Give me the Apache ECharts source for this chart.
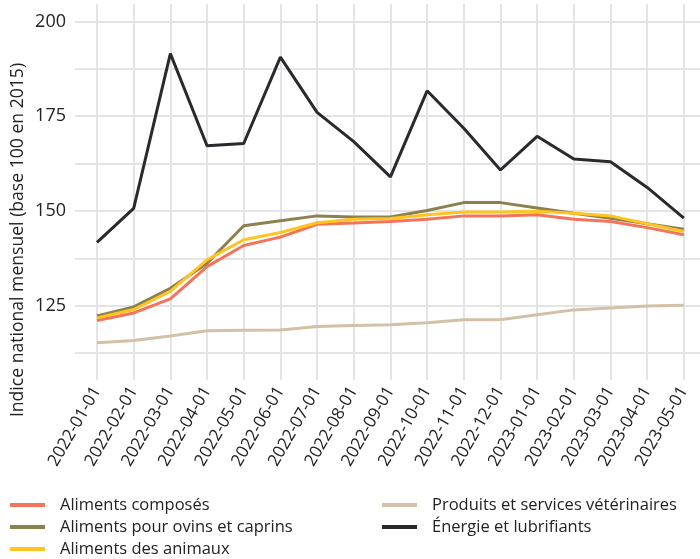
<!DOCTYPE html>
<html>
<head>
<meta charset="utf-8">
<script src="https://cdn.jsdelivr.net/npm/echarts@6/dist/echarts.min.js"></script>
<style>
  html, body { margin: 0; padding: 0; background: #fff; }
  #main { width: 700px; height: 559px; }
</style>
</head>
<body>
<div id="main"></div>
<script>
var months = ['2022-01-01', '2022-02-01', '2022-03-01', '2022-04-01', '2022-05-01', '2022-06-01',
  '2022-07-01', '2022-08-01', '2022-09-01', '2022-10-01', '2022-11-01', '2022-12-01',
  '2023-01-01', '2023-02-01', '2023-03-01', '2023-04-01', '2023-05-01'];

var composes = [121.1, 123.1, 126.8, 135.3, 140.9, 143.1, 146.5, 146.8, 147.2, 147.8, 148.7, 148.7, 149.0, 147.8, 147.2, 145.6, 143.7];
var ovins = [122.3, 124.7, 129.6, 136.2, 146.1, 147.4, 148.7, 148.4, 148.4, 150.1, 152.2, 152.2, 150.8, 149.4, 148.1, 146.6, 145.2];
var animaux = [121.8, 124.0, 128.8, 137.1, 142.4, 144.3, 146.9, 147.8, 148.0, 149.0, 149.7, 149.7, 149.9, 149.4, 148.7, 146.6, 144.6];
var veterinaires = [115.25, 115.8, 117.0, 118.4, 118.5, 118.6, 119.5, 119.8, 120.0, 120.5, 121.3, 121.3, 122.6, 123.9, 124.4, 124.9, 125.1];
var energie = [141.7, 150.7, 191.5, 167.2, 167.8, 190.6, 176.0, 168.3, 159.0, 181.7, 171.8, 160.8, 169.7, 163.7, 163.0, 156.2, 148.1];

var yTicks = [125, 150, 175, 200];
var yGrid = [112.5, 125, 137.5, 150, 162.5, 175, 187.5, 200];

var seriesDefs = [
  { name: 'Aliments composés', values: composes, color: '#F4735A' },
  { name: 'Aliments pour ovins et caprins', values: ovins, color: '#8B814E' },
  { name: 'Aliments des animaux', values: animaux, color: '#FFC41F' },
  { name: 'Produits et services vétérinaires', values: veterinaires, color: '#D3C0A6' },
  { name: 'Énergie et lubrifiants', values: energie, color: '#2A292E' }
];

var chart = echarts.init(document.getElementById('main'));

var font = 'Open Sans';
var xIdx = months.map(function (m, i) { return i; });

var legendBase = {
  orient: 'vertical',
  icon: 'rect',
  itemWidth: 35,
  itemHeight: 4,
  itemGap: 0,
  padding: 0,
  textStyle: { fontFamily: font, fontSize: 16.5, lineHeight: 16, color: '#222', padding: [6, 0, 0, 10] }
};

var option = {
  animation: false,
  backgroundColor: '#fff',
  // panel runs past the right edge in the original, so x max is trimmed instead
  grid: { left: 75, right: 0, top: 4, bottom: 179, containLabel: false },
  legend: [
    Object.assign({}, legendBase, { left: 10, top: 494, data: [seriesDefs[0].name, seriesDefs[1].name] }),
    Object.assign({}, legendBase, { left: 10, top: 538, data: [seriesDefs[2].name] }),
    Object.assign({}, legendBase, { left: 382, top: 494, data: [seriesDefs[3].name, seriesDefs[4].name] })
  ],
  graphic: [{
    type: 'text',
    x: 18,
    y: 240,
    rotation: Math.PI / 2,
    style: {
      text: 'Indice national mensuel (base 100 en 2015)',
      fontFamily: font,
      fontSize: 17.6,
      fill: '#222',
      textAlign: 'center',
      textVerticalAlign: 'middle'
    }
  }],
  xAxis: {
    type: 'value',
    min: -0.6,
    max: 16.44,
    axisLine: { show: false },
    axisTick: { show: false, customValues: xIdx },
    axisLabel: {
      customValues: xIdx,
      rotate: 60,
      margin: 8,
      fontFamily: font,
      fontSize: 17,
      color: '#222',
      formatter: function (v) { return months[Math.round(v)]; }
    },
    splitLine: { show: true, lineStyle: { color: '#E4E4E4', width: 2 } }
  },
  yAxis: {
    type: 'value',
    min: 105.4,
    max: 204.6,
    axisLine: { show: false },
    axisTick: { show: false, customValues: yGrid },
    axisLabel: {
      customValues: yTicks,
      margin: 9,
      fontFamily: font,
      fontSize: 18,
      color: '#222'
    },
    splitLine: { show: true, lineStyle: { color: '#E4E4E4', width: 2 } }
  },
  series: seriesDefs.map(function (s) {
    return {
      name: s.name,
      type: 'line',
      showSymbol: false,
      symbol: 'none',
      color: s.color,
      lineStyle: { width: 3, color: s.color },
      data: s.values.map(function (v, i) { return [i, v]; })
    };
  })
};

chart.setOption(option);
</script>
</body>
</html>
